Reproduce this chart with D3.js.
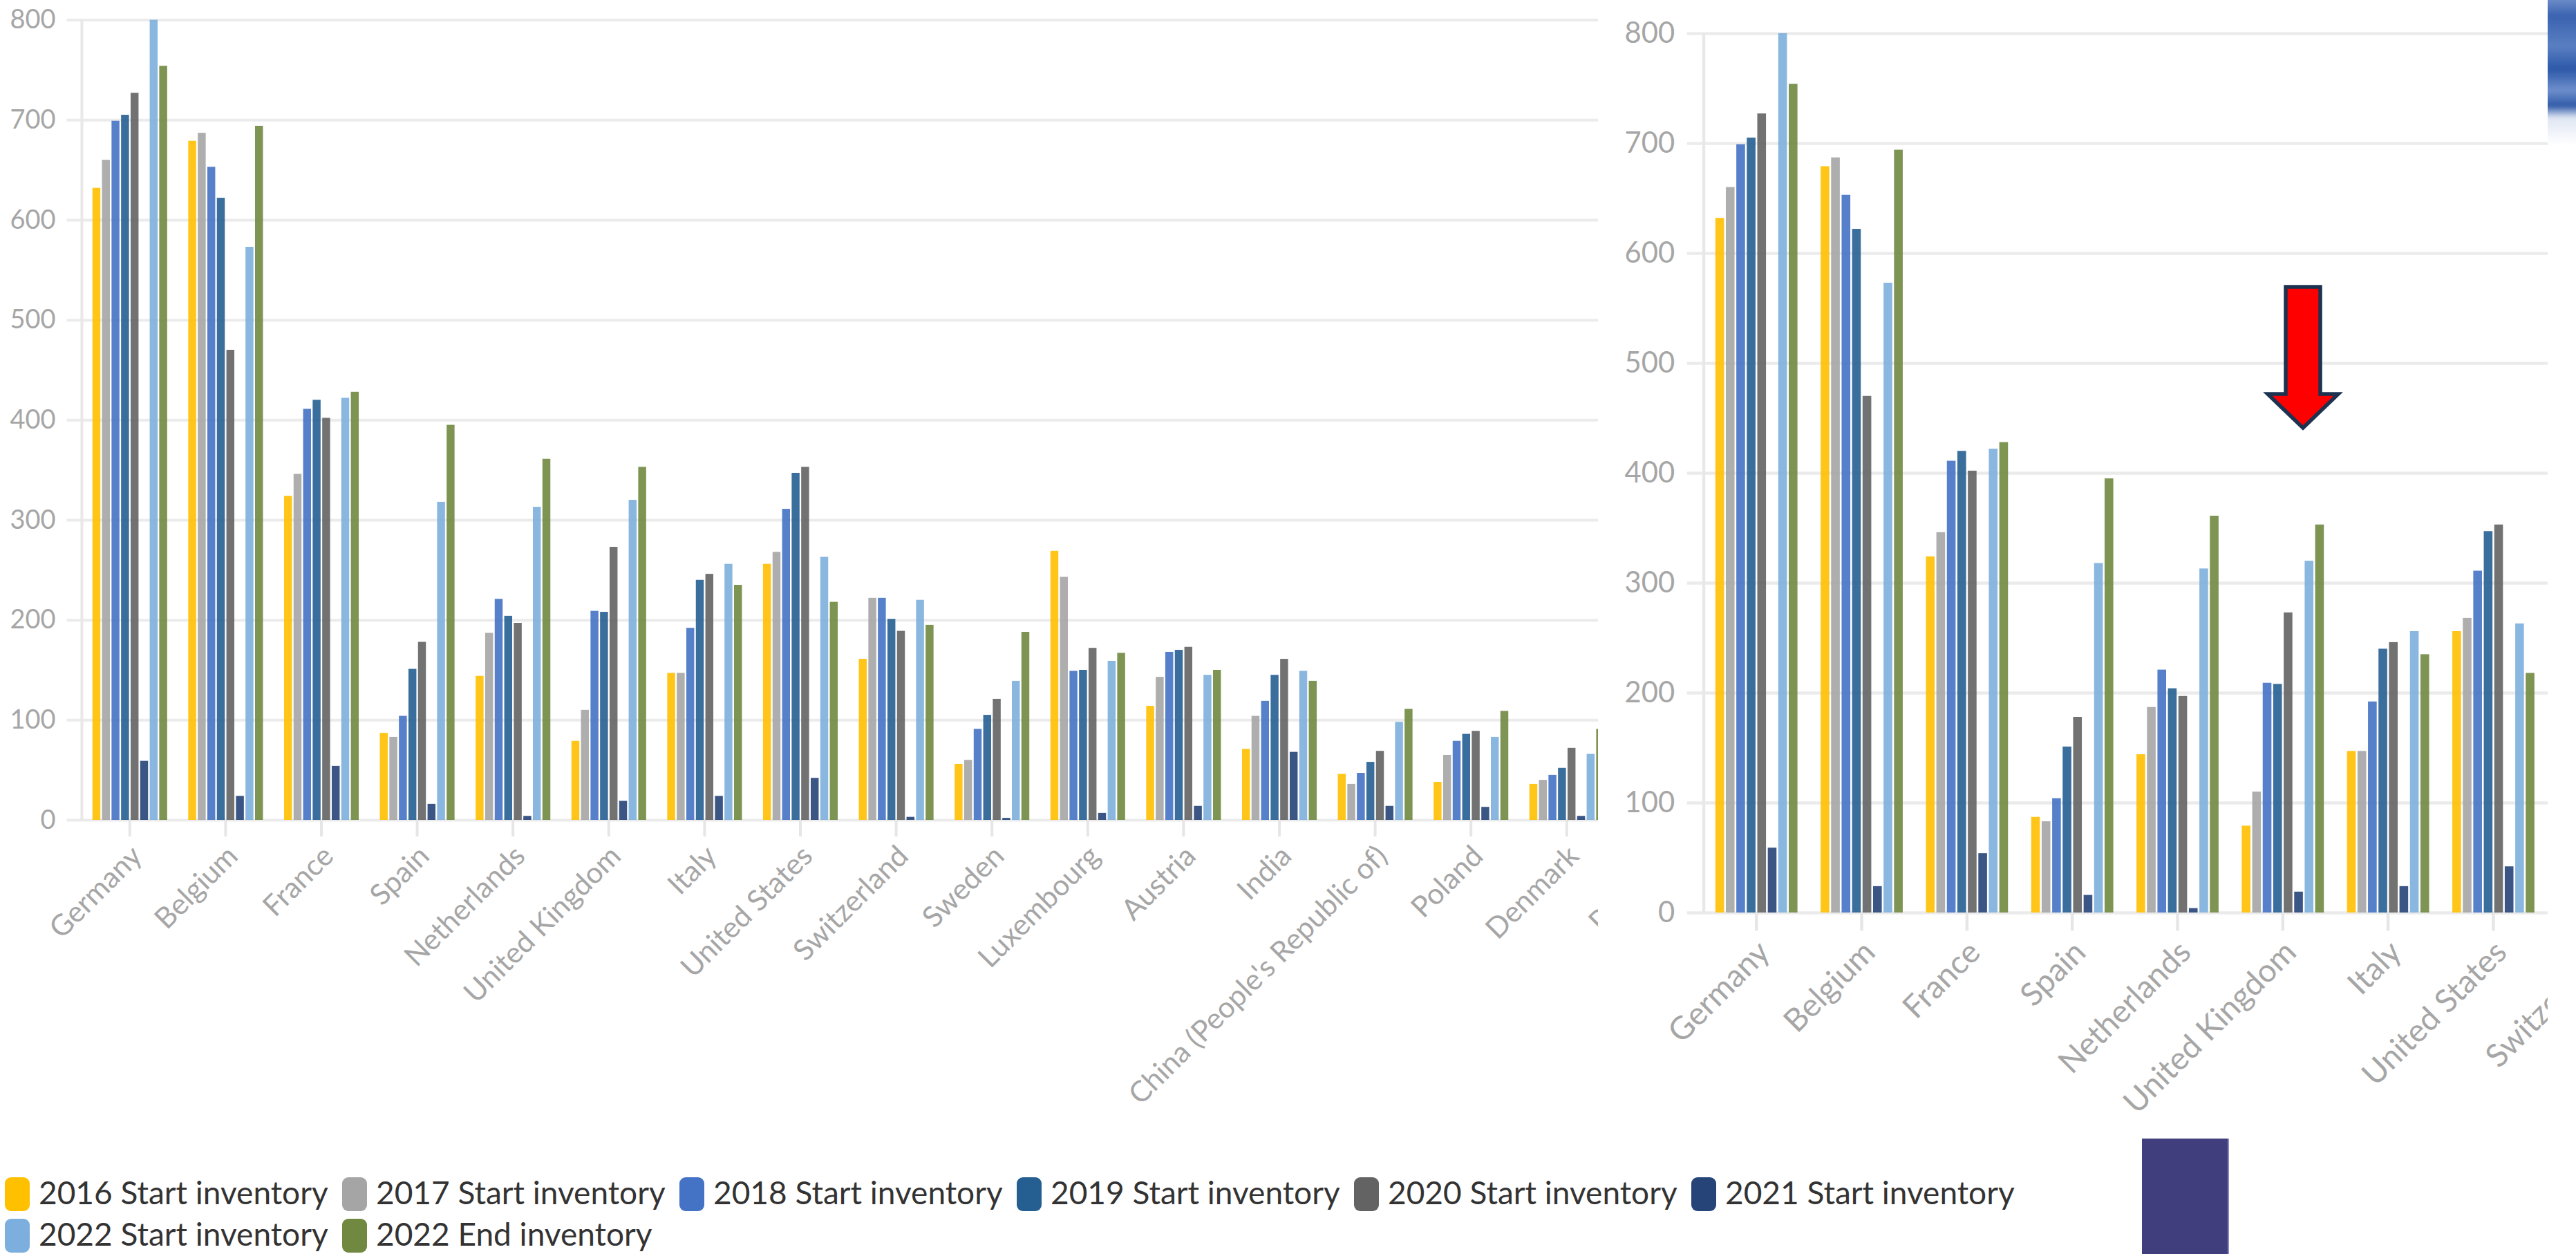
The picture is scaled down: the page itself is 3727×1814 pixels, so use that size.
<!DOCTYPE html>
<html>
<head>
<meta charset="utf-8">
<script src="https://cdn.jsdelivr.net/npm/d3@7"></script>
<style>
  html, body { margin: 0; padding: 0; background: #ffffff; }
  svg { display: block; }
</style>
</head>
<body>
<svg id="chart" width="3727" height="1814"></svg>
<script>
// Countries, in the order they appear along the axis
const categories = [
  "Germany", "Belgium", "France", "Spain", "Netherlands", "United Kingdom",
  "Italy", "United States", "Switzerland", "Sweden", "Luxembourg", "Austria",
  "India", "China (People's Republic of)", "Poland", "Denmark", "Portugal"
];

const seriesNames = [
  "2016 Start inventory", "2017 Start inventory", "2018 Start inventory",
  "2019 Start inventory", "2020 Start inventory", "2021 Start inventory",
  "2022 Start inventory", "2022 End inventory"
];

// One array per series, aligned with categories (null = no value shown)
const start2016 = [632, 679, 324, 87, 144, 79, 147, 256, 161, 56, 269, 114, 71, 46, 38, 36, null];
const start2017 = [660, 687, 346, 83, 187, 110, 147, 268, 222, 60, 243, 143, 104, 36, 65, 40, null];
const start2018 = [699, 653, 411, 104, 221, 209, 192, 311, 222, 91, 149, 168, 119, 47, 79, 45, null];
const start2019 = [705, 622, 420, 151, 204, 208, 240, 347, 201, 105, 150, 170, 145, 58, 86, 52, null];
const start2020 = [727, 470, 402, 178, 197, 273, 246, 353, 189, 121, 172, 173, 161, 69, 89, 72, null];
const start2021 = [59, 24, 54, 16, 4, 19, 24, 42, 3, 2, 7, 14, 68, 14, 13, 4, null];
const start2022 = [800, 573, 422, 318, 313, 320, 256, 263, 220, 139, 159, 145, 149, 98, 83, 66, null];
const end2022   = [754, 694, 428, 395, 361, 353, 235, 218, 195, 188, 167, 150, 139, 111, 109, 91, null];

const yTicks = [0, 100, 200, 300, 400, 500, 600, 700, 800];

const seriesValues = [start2016, start2017, start2018, start2019, start2020, start2021, start2022, end2022];
const seriesColors = ["#ffc000", "#a5a5a5", "#4472c4", "#255e91", "#636363", "#264478", "#7cafdd", "#70883f"];

const svg = d3.select("#chart");
const defs = svg.append("defs");

// ---- chart geometry (base panel, in its own coordinates) ----
const axisX = 118.5;
const zeroY = 1186;
const topY = 28.6;
const step = 138.6;
const gridReach = 2500;
const FONT = "Lato, 'Noto Sans', sans-serif";

function drawChart(g) {
  const y = d3.scaleLinear().domain([0, 800]).range([zeroY, topY]);

  const x0 = d3.scaleBand()
    .domain(categories)
    .range([axisX, axisX + step * categories.length])
    .paddingInner(0.22)
    .paddingOuter(0.11);

  const x1 = d3.scaleBand()
    .domain(d3.range(seriesNames.length))
    .range([0, x0.bandwidth()])
    .paddingInner(0.17);

  // horizontal grid + y tick labels
  const yAxis = d3.axisLeft(y)
    .tickValues(yTicks)
    .tickSize(-gridReach)
    .tickPadding(16)
    .tickFormat(d3.format("d"));

  const yg = g.append("g")
    .attr("transform", `translate(${axisX - 22},0)`)
    .call(yAxis);
  yg.select(".domain").remove();
  yg.selectAll(".tick line").attr("stroke", "#ebebeb").attr("stroke-width", 4);
  yg.selectAll(".tick text")
    .attr("fill", "#a6a6a6")
    .style("font-family", FONT)
    .style("font-size", "38px");

  // vertical axis line
  g.append("line")
    .attr("x1", axisX).attr("x2", axisX)
    .attr("y1", topY).attr("y2", zeroY)
    .attr("stroke", "#e8e8e8").attr("stroke-width", 4);

  // category ticks and rotated labels
  const xAxis = d3.axisBottom(x0).tickSize(24).tickSizeOuter(0);
  const xg = g.append("g")
    .attr("transform", `translate(0,${zeroY})`)
    .call(xAxis);
  xg.select(".domain").remove();
  xg.selectAll(".tick line").attr("stroke", "#e6e6e6").attr("stroke-width", 4);
  xg.selectAll(".tick text")
    .attr("x", 0).attr("y", 0).attr("dy", 0)
    .attr("text-anchor", "end")
    .attr("transform", "translate(20,55) rotate(-45)")
    .attr("fill", "#a6a6a6")
    .style("font-family", FONT)
    .style("font-size", "42px");

  // bars
  const groups = g.append("g").selectAll("g")
    .data(categories)
    .join("g")
    .attr("transform", d => `translate(${x0(d)},0)`);

  groups.selectAll("rect")
    .data((c, ci) => seriesValues.map((vals, si) => ({ si, v: vals[ci] })).filter(d => d.v != null))
    .join("rect")
    .attr("x", d => x1(d.si))
    .attr("width", x1.bandwidth())
    .attr("y", d => y(d.v))
    .attr("height", d => y(0) - y(d.v))
    .attr("fill", d => seriesColors[d.si])
    .attr("fill-opacity", 0.9);
}

// ---- left panel ----
defs.append("clipPath").attr("id", "clipLeft")
  .append("rect").attr("x", 0).attr("y", 0).attr("width", 2312).attr("height", 1660);

const left = svg.append("g").attr("clip-path", "url(#clipLeft)");
drawChart(left);

// ---- right panel: the same chart, enlarged ----
const zoomK = 1.099;
const zoomTx = 2334.8;
const zoomTy = 16.6;
defs.append("clipPath").attr("id", "clipRight")
  .append("rect")
  .attr("x", (2312 - zoomTx) / zoomK)
  .attr("y", (0 - zoomTy) / zoomK)
  .attr("width", (3686 - 2312) / zoomK)
  .attr("height", 1640 / zoomK);

const right = svg.append("g")
  .attr("transform", `translate(${zoomTx},${zoomTy}) scale(${zoomK})`)
  .append("g")
  .attr("clip-path", "url(#clipRight)");
drawChart(right);

// ---- legend ----
const legend = svg.append("g").attr("class", "legend");
const perRow = 6, itemStep = 488, rowStep = 60;
seriesNames.forEach((name, i) => {
  const col = i % perRow, row = Math.floor(i / perRow);
  const lx = 7 + col * itemStep;
  const ly = 1703 + row * rowStep;
  const item = legend.append("g").attr("transform", `translate(${lx},${ly})`);
  item.append("rect")
    .attr("width", 36).attr("height", 49).attr("rx", 9)
    .attr("fill", seriesColors[i]);
  item.append("text")
    .attr("x", 49).attr("y", 39)
    .attr("fill", "#333333")
    .style("font-family", FONT)
    .style("font-size", "46px")
    .text(name);
});

// ---- annotation arrow ----
svg.append("path")
  .attr("d", d3.line()([[3307, 415], [3357, 415], [3357, 570], [3383, 570], [3332, 619], [3281, 570], [3307, 570]]) + "Z")
  .attr("fill", "#ff0000")
  .attr("stroke", "#1c3250")
  .attr("stroke-width", 5.5)
  .attr("stroke-linejoin", "miter");

// ---- purple block ----
svg.append("rect")
  .attr("x", 3099).attr("y", 1647).attr("width", 125).attr("height", 167)
  .attr("fill", "#403e7d");
svg.append("rect")
  .attr("x", 3223).attr("y", 1647).attr("width", 2).attr("height", 167)
  .attr("fill", "#8a88c4");

// ---- blurred blue patch at the top-right edge ----
const grad = defs.append("linearGradient").attr("id", "skyGrad")
  .attr("x1", 0).attr("y1", 0).attr("x2", 0).attr("y2", 1);
[["0%", "#7f9bd0"], ["15%", "#3a63b0"], ["35%", "#5a7fc2"], ["50%", "#2c58a8"], ["64%", "#6f8fcc"], ["74%", "#2f5aa8"], ["82%", "#dfe6f3"], ["100%", "#ffffff"]]
  .forEach(([o, c]) => grad.append("stop").attr("offset", o).attr("stop-color", c));
const blur = defs.append("filter").attr("id", "soft").attr("x", "-20%").attr("y", "-5%").attr("width", "140%").attr("height", "110%");
blur.append("feGaussianBlur").attr("stdDeviation", 2.5);
defs.append("clipPath").attr("id", "clipSky")
  .append("rect").attr("x", 3686).attr("y", 0).attr("width", 41).attr("height", 210);
svg.append("g").attr("clip-path", "url(#clipSky)")
  .append("rect")
  .attr("x", 3680).attr("y", -10).attr("width", 60).attr("height", 220)
  .attr("fill", "url(#skyGrad)")
  .attr("filter", "url(#soft)");
</script>
</body>
</html>
